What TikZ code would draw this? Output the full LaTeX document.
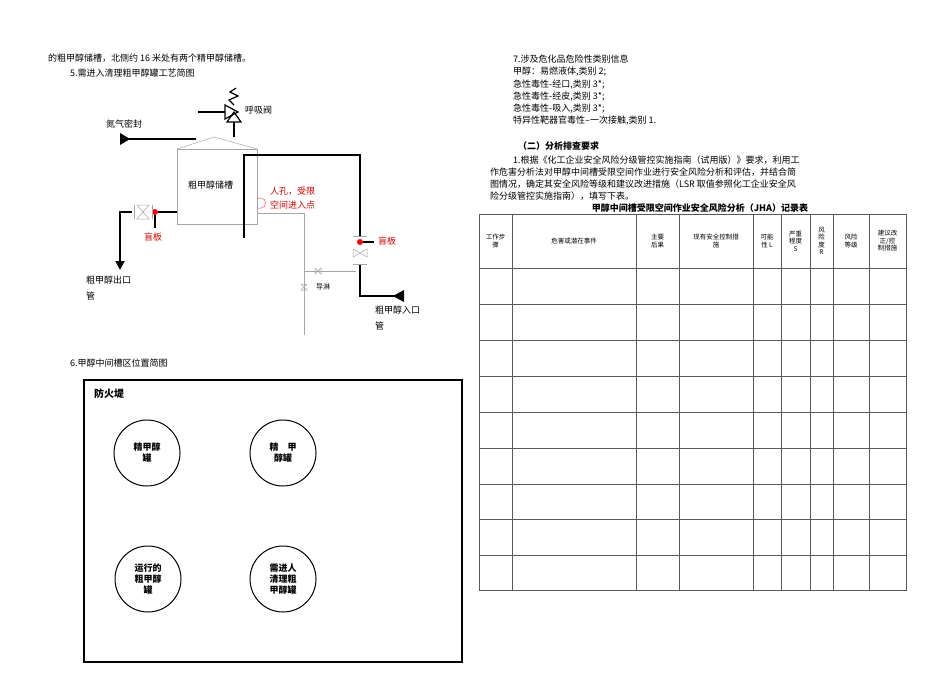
\documentclass[tikz,border=0pt]{standalone}
\usepackage{fontspec}
\setmainfont{Noto Sans CJK SC}
\usetikzlibrary{arrows.meta}
\begin{document}
\begin{tikzpicture}[x=1pt,y=-1pt,
  txt/.style={anchor=west,inner sep=0pt,font=\fontsize{9}{10}\selectfont},
  red/.style={txt,text=red!85!black},
  pipe/.style={line width=1.8pt},
  thin/.style={draw=gray!70,line width=0.5pt},
  dot/.style={circle,fill=red,inner sep=0pt,minimum size=6pt},
  tank/.style={circle,draw,line width=1pt,minimum size=66pt,font=\bfseries\fontsize{9}{11}\selectfont,align=center}]
\useasboundingbox (0,0) rectangle (950,672);
\fill[white] (0,0) rectangle (950,672);
% top-left text
\node[txt] (t1) at (48,58) {的粗甲醇储槽，北侧约 16 米处有两个精甲醇储槽。};
\node[txt] (t2) at (70,73) {5.需进入清理粗甲醇罐工艺简图};
% tank
\draw[thin] (177,224) rectangle (257,149);
\draw[thin] (177,149) -- (214,137) -- (257,149);
\node[txt] (tk) at (188,185) {粗甲醇储槽};
% breather
\draw[line width=1.2pt] (234,137) -- (234,122);
\draw[line width=1.2pt] (225,105) -- (225,119) -- (238,112) -- cycle;
\draw[line width=1.2pt] (227,122) -- (241,122) -- (234,112) -- cycle;
\draw[line width=1.2pt] (198,112) -- (225,112);
\draw[line width=1.2pt] (234,105) -- (229,100) -- (238,96) -- (230,92) -- (236,88);
\node[txt] (hx) at (245,110) {呼吸阀};
% nitrogen
\draw[pipe] (196,139) -- (124,139);
\fill (120,133) -- (130,139) -- (120,145) -- cycle;
\node[txt] (nq) at (106,124) {氮气密封};
% inlet pipe
\draw[pipe] (244,238) -- (244,155) -- (360,155) -- (360,236);
\node[dot] (b2) at (360,242) {};
\draw[pipe] (b2) -- (374,242);
\draw[thin] (353,236) -- (367,236) (353,264) -- (367,264);
\draw[thin] (353,249) -- (367,257) -- (367,249) -- (353,257) -- cycle;
\draw[pipe] (360,265) -- (360,296) -- (395,296);
\fill (393,296) -- (404,290) -- (404,302) -- cycle;
\node[red] (bl2) at (378,241) {盲板};
\node[txt] (in) at (375,310) {粗甲醇入口};
\node[txt] (in2) at (375,326) {管};
% outlet
\node[dot] (b1) at (155,212) {};
\draw[pipe] (177,212) -- (b1) -- (155,228);
\draw[thin] (134,205) -- (134,219) (152,205) -- (152,219);
\draw[thin] (137,205) -- (149,219) -- (137,219) -- (149,205) -- cycle;
\coordinate (o2) at (120,270);
\draw[pipe,-{Triangle[length=9pt,width=9pt]}] (132,212) -- (120,212) -- (o2);
\node[red] (bl1) at (144,237) {盲板};
\node[txt] (out) at (86,280) {粗甲醇出口};
\node[txt] (out2) at (86,296) {管};
% manhole
\draw[red!70,line width=0.5pt] (257,198) -- (261,198) .. controls (267,198) and (267,208) .. (261,208) -- (257,208);
\node[red] (mh) at (270,191) {人孔，受限};
\node[red] (mh2) at (270,205) {空间进入点};
% drain
\draw[thin] (257,213) -- (304,213) -- (304,335);
\draw[thin] (304,271) -- (356,271);
\draw[thin] (315,268) -- (321,274) -- (321,268) -- (315,274) -- cycle;
\draw[thin] (301,284) -- (307,290) -- (301,290) -- (307,284) -- cycle;
\node[txt,font=\fontsize{7}{8}\selectfont] (dl) at (316,287) {导淋};
% section 6
\node[txt] (t6) at (70,363) {6.甲醇中间槽区位置简图};
\draw[line width=2.5pt] (84,380) rectangle (462,662);
\node[txt,font=\bfseries\fontsize{10}{11}\selectfont] (fh) at (94,394) {防火堤};
\node[tank] (c1) at (147,453) {精甲醇\\罐};
\node[tank] (c2) at (283,453) {精\quad 甲\\醇罐};
\node[tank] (c3) at (148,579) {运行的\\粗甲醇\\罐};
\node[tank] (c4) at (283,579) {需进人\\清理粗\\甲醇罐};
% right text
\node[txt] (r1) at (513,59) {7.涉及危化品危险性类别信息};
\node[txt] (r2) at (513,72) {甲醇：易燃液体,类别 2;};
\node[txt] (r3) at (513,85) {急性毒性-经口,类别 3*;};
\node[txt] (r4) at (513,97) {急性毒性-经皮,类别 3*;};
\node[txt] (r5) at (513,109) {急性毒性-吸入,类别 3*;};
\node[txt] (r6) at (513,121) {特异性靶器官毒性--一次接触,类别 1.};
\node[txt,font=\bfseries\fontsize{9}{10}\selectfont] (r7) at (518,146) {（二）分析排查要求};
\node[txt] (p1) at (513,160) {1.根据《化工企业安全风险分级管控实施指南（试用版）》要求，利用工};
\node[txt] (p2) at (490,172) {作危害分析法对甲醇中间槽受限空间作业进行安全风险分析和评估，并结合简};
\node[txt] (p3) at (490,184) {图情况，确定其安全风险等级和建议改进措施（LSR 取值参照化工企业安全风};
\node[txt] (p4) at (490,196) {险分级管控实施指南），填写下表。};
\node[font=\bfseries\fontsize{9}{10}\selectfont,inner sep=0pt] (tt) at (700,208) {甲醇中间槽受限空间作业安全风险分析（JHA）记录表};
% table
\draw[gray!70!black,line width=0.6pt] (479,214) rectangle (906,590);
\foreach \x in {512,636,679,753,781,810,833,869} \draw[gray!70!black,line width=0.5pt] (\x,214) -- (\x,590);
\foreach \y in {268,304,340,376,412,448,484,519,555} \draw[gray!70!black,line width=0.5pt] (479,\y) -- (906,\y);
\begin{scope}[every node/.style={align=center,inner sep=0pt,font=\fontsize{6.5}{7.5}\selectfont}]
\node (h1) at (495.5,241) {工作步\\骤};
\node (h2) at (574,241) {危害或潜在事件};
\node (h3) at (657.5,241) {主要\\后果};
\node (h4) at (716,241) {现有安全控制措\\施};
\node (h5) at (767,241) {可能\\性 L};
\node (h6) at (795.5,241) {严重\\程度\\S};
\node (h7) at (821.5,241) {风\\险\\度\\R};
\node (h8) at (851,241) {风险\\等级};
\node (h9) at (887.5,241) {建议改\\正/控\\制措施};
\end{scope}
\end{tikzpicture}
\end{document}
